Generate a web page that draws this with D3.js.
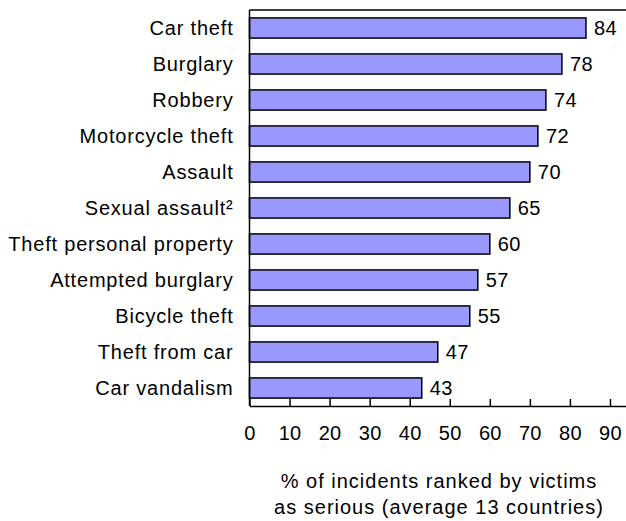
<!DOCTYPE html>
<html>
<head>
<meta charset="utf-8">
<script src="https://cdn.jsdelivr.net/npm/d3@7"></script>
<style>
  body { margin: 0; background: #fff; }
  text { font-family: "Liberation Sans", Arial, sans-serif; fill: #000; }
</style>
</head>
<body>
<script>
var categories = ["Car theft", "Burglary", "Robbery", "Motorcycle theft", "Assault",
  "Sexual assault²", "Theft personal property", "Attempted burglary", "Bicycle theft",
  "Theft from car", "Car vandalism"];
var values = [84, 78, 74, 72, 70, 65, 60, 57, 55, 47, 43];
var xTicks = [0, 10, 20, 30, 40, 50, 60, 70, 80, 90];
var titleLines = ["% of incidents ranked by victims", "as serious (average 13 countries)"];

var width = 626, height = 521;
var margin = {left: 249.5, top: 10, bottom: 406};

var svg = d3.select("body").append("svg")
  .attr("width", width)
  .attr("height", height);

// plot area runs off the right edge, like the original
var x = d3.scaleLinear().domain([0, 94]).range([margin.left, width]);
var y = d3.scaleBand().domain(categories).range([margin.top, margin.bottom])
  .paddingInner(0.44).paddingOuter(0.22);

var data = categories.map(function(c, i) { return {name: c, value: values[i]}; });

// bars
svg.append("g").selectAll("rect")
  .data(data)
  .enter().append("rect")
  .attr("x", x(0))
  .attr("y", function(d) { return y(d.name); })
  .attr("width", function(d) { return x(d.value) - x(0); })
  .attr("height", y.bandwidth())
  .attr("fill", "#9999ff")
  .attr("stroke", "#000")
  .attr("stroke-width", 1.5);

// value labels
svg.append("g").selectAll("text")
  .data(data)
  .enter().append("text")
  .attr("x", function(d) { return x(d.value) + 8; })
  .attr("y", function(d) { return y(d.name) + y.bandwidth() / 2; })
  .attr("dy", "0.36em")
  .style("font-size", "20px")
  .style("letter-spacing", "0.4px")
  .text(function(d) { return d.value; });

// category labels
svg.append("g").selectAll("text")
  .data(data)
  .enter().append("text")
  .attr("x", margin.left - 16)
  .attr("y", function(d) { return y(d.name) + y.bandwidth() / 2; })
  .attr("dy", "0.36em")
  .attr("text-anchor", "end")
  .style("font-size", "20px")
  .style("letter-spacing", "0.8px")
  .text(function(d) { return d.name; });

// top border and left axis line
svg.append("line")
  .attr("x1", margin.left).attr("x2", width)
  .attr("y1", margin.top).attr("y2", margin.top)
  .attr("stroke", "#000").attr("stroke-width", 1.5);
svg.append("line")
  .attr("x1", margin.left).attr("x2", margin.left)
  .attr("y1", margin.top).attr("y2", margin.bottom)
  .attr("stroke", "#000").attr("stroke-width", 1.5);

// x axis, ticks point up into the plot
var xAxis = d3.axisBottom(x)
  .tickValues(xTicks)
  .tickSizeInner(-7)
  .tickSizeOuter(0)
  .tickPadding(20);

var gx = svg.append("g")
  .attr("transform", "translate(0," + margin.bottom + ")")
  .call(xAxis);
gx.select(".domain").attr("stroke-width", 1.5);
gx.selectAll(".tick line").attr("stroke-width", 1.5);
gx.selectAll(".tick text")
  .style("font-size", "20px")
  .style("letter-spacing", "0.3px")
  .style("font-family", "'Liberation Sans', Arial, sans-serif");

// axis title
svg.append("g").selectAll("text")
  .data(titleLines)
  .enter().append("text")
  .attr("x", 439)
  .attr("y", function(d, i) { return 488 + i * 26; })
  .attr("text-anchor", "middle")
  .style("font-size", "20px")
  .style("letter-spacing", "1px")
  .text(function(d) { return d; });
</script>
</body>
</html>
